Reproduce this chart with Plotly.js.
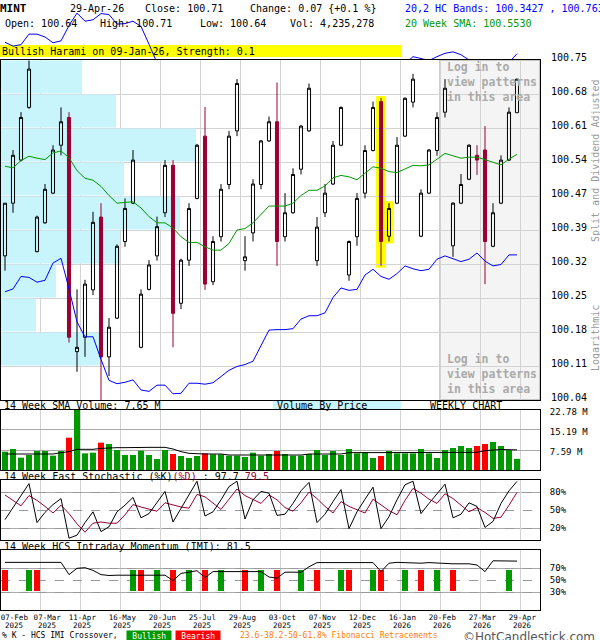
<!DOCTYPE html>
<html><head><meta charset="utf-8">
<script src="https://cdn.plot.ly/plotly-3.0.1.min.js"></script>
<style>html,body{margin:0;padding:0;background:#fff}#chart{width:600px;height:640px}</style>
</head><body><div id="chart"></div>
<script>
// ================= DATA =================
const ticker = 'MINT';
const openP  = [100.341,100.451,100.541,100.651,100.350,100.410,100.472,100.572,100.630,100.141,100.171,100.270,100.422,100.130,100.211,100.371,100.451,100.150,100.271,100.341,100.431,100.530,100.242,100.332,100.461,100.591,100.287,100.381,100.490,100.602,100.331,100.389,100.490,100.581,100.621,100.381,100.431,100.522,100.602,100.331,100.431,100.491,100.572,100.301,100.381,100.472,100.561,100.663,100.382,100.451,100.591,100.662,100.382,100.472,100.561,100.641,100.362,100.451,100.501,100.551,100.562,100.361,100.451,100.541,100.640];
const highP  = [100.451,100.562,100.641,100.749,100.425,100.491,100.572,100.651,100.641,100.271,100.291,100.433,100.451,100.211,100.365,100.461,100.562,100.271,100.332,100.423,100.541,100.541,100.335,100.451,100.575,100.652,100.382,100.491,100.602,100.710,100.382,100.501,100.583,100.632,100.703,100.472,100.524,100.614,100.701,100.422,100.491,100.581,100.653,100.373,100.472,100.572,100.663,100.671,100.451,100.589,100.672,100.721,100.480,100.564,100.641,100.710,100.453,100.512,100.574,100.572,100.612,100.451,100.551,100.651,100.710];
const lowP   = [100.310,100.431,100.538,100.648,100.348,100.408,100.470,100.551,100.160,100.099,100.130,100.259,100.036,100.090,100.209,100.360,100.449,100.148,100.269,100.331,100.422,100.150,100.230,100.320,100.459,100.270,100.280,100.371,100.480,100.591,100.310,100.371,100.480,100.579,100.320,100.371,100.429,100.511,100.600,100.320,100.422,100.489,100.570,100.289,100.362,100.461,100.559,100.320,100.371,100.449,100.589,100.651,100.380,100.470,100.550,100.630,100.339,100.449,100.499,100.510,100.282,100.359,100.449,100.539,100.640];
const closeP = [100.451,100.551,100.630,100.731,100.422,100.480,100.562,100.621,100.171,100.150,100.282,100.411,100.130,100.192,100.361,100.440,100.541,100.261,100.322,100.402,100.530,100.221,100.332,100.440,100.572,100.282,100.371,100.480,100.591,100.701,100.339,100.491,100.581,100.621,100.371,100.431,100.511,100.612,100.691,100.401,100.472,100.572,100.651,100.371,100.461,100.561,100.651,100.371,100.440,100.572,100.670,100.710,100.472,100.562,100.630,100.691,100.451,100.490,100.572,100.541,100.371,100.431,100.541,100.641,100.710];
const upperBand = [100.787,100.779,100.782,100.804,100.804,100.798,100.786,100.790,100.822,100.848,100.831,100.834,100.847,100.845,100.825,100.826,100.831,100.820,100.783,100.744,100.746,100.738,100.708,100.653,100.665,100.660,100.637,100.611,100.640,100.680,100.682,100.686,100.692,100.703,100.703,100.703,100.701,100.720,100.741,100.741,100.737,100.731,100.742,100.746,100.739,100.737,100.745,100.746,100.735,100.727,100.741,100.757,100.753,100.749,100.757,100.764,100.767,100.761,100.750,100.748,100.750,100.746,100.743,100.745,100.763];
const lowerBand = [100.266,100.272,100.298,100.296,100.286,100.290,100.326,100.336,100.272,100.203,100.172,100.172,100.125,100.081,100.074,100.077,100.082,100.061,100.058,100.071,100.071,100.053,100.054,100.075,100.075,100.073,100.076,100.090,100.102,100.110,100.114,100.121,100.155,100.186,100.187,100.187,100.189,100.209,100.216,100.216,100.222,100.254,100.274,100.269,100.271,100.301,100.313,100.298,100.292,100.304,100.320,100.314,100.310,100.313,100.334,100.341,100.335,100.329,100.334,100.347,100.330,100.320,100.323,100.343,100.343];
const sma20 = [100.528,100.525,100.540,100.549,100.545,100.542,100.556,100.560,100.546,100.519,100.503,100.499,100.486,100.467,100.451,100.452,100.454,100.441,100.423,100.410,100.410,100.399,100.381,100.369,100.369,100.360,100.353,100.353,100.367,100.395,100.398,100.410,100.428,100.445,100.445,100.445,100.451,100.467,100.478,100.478,100.487,100.504,100.509,100.506,100.500,100.513,100.527,100.524,100.517,100.515,100.522,100.530,100.529,100.531,100.543,100.555,100.550,100.545,100.547,100.547,100.542,100.536,100.531,100.543,100.553];
// volume in millions
const volume = [6.96,7.97,4.68,5.70,7.21,7.21,5.44,7.21,12.28,23.5,6.33,6.58,10.38,9.87,7.59,5.70,5.70,7.34,5.70,4.18,7.59,6.07,5.32,4.56,5.32,6.33,5.95,5.95,5.44,5.44,4.94,6.58,5.44,6.07,7.21,6.07,5.44,5.44,6.07,7.59,5.70,7.21,5.70,7.97,6.33,6.71,4.56,5.32,7.21,6.33,6.33,6.33,7.97,6.33,4.56,7.59,8.35,9.11,8.35,9.11,9.87,10.63,9.11,7.59,4.24];
const volSma = [6.07,6.07,6.07,6.07,6.07,6.07,6.07,6.58,6.96,7.85,7.85,7.85,8.2,8.48,8.48,8.48,8.6,8.6,8.6,8.6,8.6,7.97,6.96,6.33,6.07,6.07,6.07,6.07,5.69,5.69,5.69,5.69,5.69,5.69,5.69,5.69,5.69,5.69,6.07,6.07,6.07,6.07,6.07,6.58,6.58,6.58,6.58,6.58,6.58,6.58,6.58,6.58,6.58,6.58,6.58,6.71,6.71,6.71,6.71,6.71,7.34,7.59,7.8,7.7,7.65];
const stochK = [34,54,74,94,29,46,59,69,3,8,29,47,14,22,47,58,71,37,44,62,81,30,53,77,98,40,47,67,89,98,35,67,81,78,41,43,61,82,96,29,43,64,84,19,47,68,88,19,39,67,92,98,44,61,78,93,37,43,62,56,21,31,61,82,97.7];
const stochD = [75,66,57,74,66,56,45,58,44,27,13,28,30,28,28,42,59,55,51,48,62,58,55,53,76,72,62,51,68,85,74,67,61,75,67,54,48,62,80,69,56,45,64,56,50,45,68,58,49,42,66,86,78,68,61,77,69,58,47,54,46,36,38,58,79.5];
const imi = [79.4,79.4,79.4,79.4,79.4,79.4,79.4,79.4,59,69.5,70.5,66,59,57.5,58,58,58,58,58,58,58,49,61,63,65.5,54,64,64,64,64,64,64,64,55,53,63,63,63,72,79,79,79,79,79,79,79,79,64,78,79.4,79,78,78,79,78,77,77,77,77,75,64,82,82,82,81.5];
const bullishIdx = [3,16,19,23,27,32,37,42,46,50,54,63];
const bearishIdx = [0,4,17,21,25,30,34,39,43,47,52,56];
const patternIdx = [47,48];              // Bullish Harami candles
const loginStartWeek = 55;               // pattern-locked area starts here
// volume-by-price, relative, bottom bin to top bin
const vbpVolume = [0,100,35,55,119,179,123,195,115,81];
const priceTickText = ['100.04','100.11','100.18','100.25','100.32','100.39','100.47','100.54','100.61','100.68','100.75'];
const volTickVals = [7.59,15.19,22.78];
const volTickText = ['7.59 M','15.19 M','22.78 M'];
const dateLabels = ['07-Feb','07-Mar','11-Apr','16-May','20-Jun','25-Jul','29-Aug','03-Oct','07-Nov','12-Dec','16-Jan','20-Feb','27-Mar','29-Apr'];
const yearLabels = ['2025','2025','2025','2025','2025','2025','2025','2025','2025','2025','2026','2026','2026','2026'];
const dateLabelWeek = [1.5,5.6,10,15,20,25,30,35,40,45,50,55,60,65];

// ================= STYLE / LAYOUT =================
const W = 600, H = 640;
const MONO = "DejaVu Sans Mono, Liberation Mono, monospace";
const px = v => v / W, py = v => 1 - v / H;
const n = closeP.length;
const weekIdx = closeP.map((_, i) => i);
const xRange = [-0.5, -0.5 + 539 / 8];
const xDomain = [px(1), px(540)];
const gridPos = Array.from({length: 13}, (_, k) => (k + 1) * 5 - 0.625);
const labelPos = dateLabelWeek.map(w => w - 0.33);
const pMin = 100.04, pMax = 100.75, pStep = (pMax - pMin) / (priceTickText.length - 1);
const priceTickVals = priceTickText.map((_, i) => pMin + i * pStep);
const mainTop = 60, mainBot = 400;
const yTopExt = pMin + (pMax - pMin) * mainBot / (mainBot - mainTop);
const vbpCenters = vbpVolume.map((_, i) => pMin + pStep * (i + 0.5));
const GREEN = '#009900', RED = '#ff0000', DRED = '#990033', GRID = '#d3d3d3';

const traces = [
  {type:'bar', orientation:'h', x: vbpVolume, y: vbpCenters, width: pStep*0.965, xaxis:'x7', yaxis:'y',
   marker:{color:'#c8f4fc', line:{width:0}}, hoverinfo:'skip'},
  {type:'candlestick', x: weekIdx, open: openP, high: highP, low: lowP, close: closeP, xaxis:'x', yaxis:'y',
   increasing:{line:{color:'#000', width:1}, fillcolor:'rgba(0,0,0,0)'},
   decreasing:{line:{color:DRED, width:1}, fillcolor:DRED}, whiskerwidth:0, hoverinfo:'skip'},
  {type:'scatter', mode:'lines', x: weekIdx, y: lowerBand, xaxis:'x', yaxis:'y', line:{color:'#0000ff', width:1}, hoverinfo:'skip'},
  {type:'scatter', mode:'lines', x: weekIdx, y: sma20, xaxis:'x', yaxis:'y', line:{color:GREEN, width:1}, hoverinfo:'skip'},
  {type:'scatter', mode:'lines', x: weekIdx, y: upperBand, xaxis:'x6', yaxis:'y5', line:{color:'#0000ff', width:1}, hoverinfo:'skip'},
  {type:'bar', x: weekIdx, y: volume, width:0.75, xaxis:'x2', yaxis:'y2',
   marker:{color: closeP.map((c, i) => c >= openP[i] ? GREEN : RED), line:{width:0}}, hoverinfo:'skip'},
  {type:'scatter', mode:'lines', x: weekIdx, y: volSma, xaxis:'x2', yaxis:'y2', line:{color:'#000', width:1}, hoverinfo:'skip'},
  {type:'scatter', mode:'lines', x: weekIdx, y: stochD, xaxis:'x3', yaxis:'y3', line:{color:DRED, width:1}, hoverinfo:'skip'},
  {type:'scatter', mode:'lines', x: weekIdx, y: stochK, xaxis:'x3', yaxis:'y3', line:{color:'#000', width:1}, hoverinfo:'skip'},
  {type:'bar', x: bullishIdx, y: bullishIdx.map(() => 35), base: 31.7, width:0.75, xaxis:'x4', yaxis:'y4', marker:{color:GREEN, line:{width:0}}, hoverinfo:'skip'},
  {type:'bar', x: bearishIdx, y: bearishIdx.map(() => 35), base: 31.7, width:0.75, xaxis:'x4', yaxis:'y4', marker:{color:RED, line:{width:0}}, hoverinfo:'skip'},
  {type:'scatter', mode:'lines', x: weekIdx, y: imi, xaxis:'x4', yaxis:'y4', line:{color:'#000', width:1}, hoverinfo:'skip'}
];

const frame = {showline:true, mirror:true, linecolor:'#000', linewidth:1};
const xCommon = Object.assign({domain:xDomain, range:xRange, tickmode:'array', tickvals:gridPos, showticklabels:false,
  ticks:'', showgrid:true, gridcolor:GRID, gridwidth:1, zeroline:false, fixedrange:true}, frame);
const yRight = {side:'right', ticks:'', zeroline:false, fixedrange:true, tickmode:'array',
  tickfont:{family:MONO, size:9, color:'#000'}, ticklabelstandoff:7};

const layout = {
  width:W, height:H, margin:{l:0,r:0,t:0,b:0,pad:0}, paper_bgcolor:'#ffffff', plot_bgcolor:'#ffffff',
  showlegend:false, barmode:'overlay', boxgap:0.45, dragmode:false,
  xaxis7: Object.assign({domain:xDomain, range:[0,539], anchor:'y', showgrid:false, zeroline:false, showticklabels:false, ticks:'', fixedrange:true}, frame),
  xaxis: {overlaying:'x7', anchor:'y', range:xRange, tickmode:'array', tickvals:gridPos, showticklabels:false, ticks:'',
          showgrid:true, gridcolor:GRID, zeroline:false, showline:false, rangeslider:{visible:false}, fixedrange:true},
  yaxis: Object.assign({}, yRight, frame, {domain:[py(mainBot), py(mainTop)], anchor:'x7', range:[pMin, pMax],
          tickvals:priceTickVals, ticktext:priceTickText, showgrid:true, gridcolor:GRID,
          tickfont:{family:MONO, size:10, color:'#000'}, ticklabelstandoff:8, ticklabelshift:-3}),
  xaxis6: {domain:xDomain, range:xRange, anchor:'y5', visible:false, fixedrange:true},
  yaxis5: {domain:[py(mainBot), 1], range:[pMin, yTopExt], anchor:'x6', visible:false, fixedrange:true},
  xaxis2: Object.assign({}, xCommon, {anchor:'y2'}),
  yaxis2: Object.assign({}, yRight, frame, {domain:[py(470), py(410)], anchor:'x2', range:[0, 22.78],
          tickvals:volTickVals, ticktext:volTickText, showgrid:true, gridcolor:'#aaaaaa', ticklabelshift:2}),
  xaxis3: Object.assign({}, xCommon, {anchor:'y3'}),
  yaxis3: Object.assign({}, yRight, frame, {domain:[py(540), py(480)], anchor:'x3', range:[0,100],
          tickvals:[20,50,80], ticktext:['20%','50%','80%'], showgrid:true, gridcolor:'#999999', griddash:'dash',
          minor:{tickmode:'array', tickvals:[20,80], showgrid:true, gridcolor:'#aaaaaa', griddash:'solid', ticks:''}}),
  xaxis4: Object.assign({}, xCommon, {anchor:'y4', tickvals:labelPos, ticktext:dateLabels, showticklabels:true, showgrid:false,
          tickangle:0, tickfont:{family:MONO, size:7.5, color:'#000'}, ticklabelstandoff:0, ticklabeloverflow:'allow',
          minor:{tickmode:'array', tickvals:gridPos, showgrid:true, gridcolor:GRID, ticks:''}}),
  yaxis4: Object.assign({}, yRight, frame, {domain:[py(610), py(550)], anchor:'x4', range:[0,100],
          tickvals:[30,50,70], ticktext:['30%','50%','70%'], showgrid:true, gridcolor:'#999999', griddash:'dash',
          minor:{tickmode:'array', tickvals:[30,70], showgrid:true, gridcolor:'#aaaaaa', griddash:'solid', ticks:''}}),
  shapes: [
    {type:'rect', xref:'paper', yref:'paper', x0:0, x1:px(401), y0:py(57), y1:py(45), fillcolor:'#ffff00', line:{width:0}, layer:'below'},
    {type:'rect', xref:'paper', yref:'paper', x0:px(273), x1:px(401), y0:py(410), y1:py(400), fillcolor:'#c8f4fc', line:{width:0}, layer:'below'},
    {type:'rect', xref:'x', yref:'y', x0:loginStartWeek - 0.625, x1:xRange[1], y0:pMin, y1:pMax,
     fillcolor:'#f4f4f4', line:{color:'#999999', width:1}, layer:'below'}
  ].concat(patternIdx.map(i => ({type:'rect', xref:'x', yref:'y', x0:i - 0.62, x1:i + 0.62,
     y0:lowP[i] - 0.004, y1:highP[i] + 0.004, fillcolor:'#ffff00', line:{width:0}, layer:'below'}))),
  annotations: []
};

function txt(text, x, y, opt) {
  return Object.assign({text:text, x:px(x), y:py(y), xref:'paper', yref:'paper', xanchor:'left', yanchor:'middle',
    showarrow:false, borderpad:0, align:'left', font:{family:MONO, size:10, color:'#000'}}, opt || {});
}
const last = n - 1;
layout.annotations.push(
  txt('<b>' + ticker + '</b>', -1, 9, {font:{family:MONO, size:11, color:'#000'}}),
  txt('29-Apr-26', 69, 9),
  txt('Close: ' + closeP[last].toFixed(2), 144, 9),
  txt('Change: 0.07 {+0.1 %}', 249, 9),
  txt('20,2 HC Bands: 100.3427 , 100.763', 404, 9, {font:{family:MONO, size:10, color:'#0000ff'}}),
  txt('Open: ' + openP[last].toFixed(2), 4, 24),
  txt('High: ' + highP[last].toFixed(2), 99, 24),
  txt('Low: ' + lowP[last].toFixed(2), 199, 24),
  txt('Vol: 4,235,278', 289, 24),
  txt('20 Week SMA: 100.5530', 404, 24, {font:{family:MONO, size:10, color:GREEN}}),
  txt('Bullish Harami on 09-Jan-26, Strength: 0.1', 1, 51),
  txt('<b>Log in to<br>view patterns<br>in this area</b>', 446, 59, {yanchor:'top', font:{family:MONO, size:11.5, color:'#aaaaaa'}}),
  txt('<b>Log in to<br>view patterns<br>in this area</b>', 446, 351, {yanchor:'top', font:{family:MONO, size:11.5, color:'#aaaaaa'}}),
  txt('Split and Dividend Adjusted', 595, 161, {xanchor:'center', textangle:-90, font:{family:MONO, size:10, color:'#999999'}}),
  txt('Logarithmic', 595, 338, {xanchor:'center', textangle:-90, font:{family:MONO, size:10, color:'#999999'}}),
  txt('14 Week SMA Volume: ' + volSma[last].toFixed(2) + ' M', 3, 405),
  txt('Volume By Price', 276, 405),
  txt('WEEKLY CHART', 429, 405),
  txt('14 Week Fast Stochastic (%K)<span style="color:' + DRED + '">(%D)</span> : ' + stochK[last] +
      ' <span style="color:' + DRED + '">' + stochD[last] + '</span>', 3, 476),
  txt('14 Week HCS Intraday Momentum (IMI): ' + imi[last], 3, 546),
  txt('% K - HCS IMI Crossover,', 1, 635.5, {font:{family:MONO, size:8, color:'#000'}}),
  txt(' Bullish ', 126, 635.5, {bgcolor:GREEN, borderpad:0.5, font:{family:MONO, size:8, color:'#ffffff'}}),
  txt(' Bearish ', 175, 635.5, {bgcolor:RED, borderpad:0.5, font:{family:MONO, size:8, color:'#ffffff'}}),
  txt('23.6-38.2-50-61.8% Fibonacci Retracements', 239, 635.5, {font:{family:MONO, size:8, color:'#ff8000'}}),
  txt('©HotCandlestick.com', 462, 636.5, {font:{family:'DejaVu Sans, sans-serif', size:12, color:'#555555'}})
);
// year row under the date tick labels, positioned on the bottom axis scale
yearLabels.forEach((yl, i) => layout.annotations.push({text:yl, x:labelPos[i], xref:'x4', y:py(625), yref:'paper',
  xanchor:'center', yanchor:'middle', showarrow:false, borderpad:0, font:{family:MONO, size:7.5, color:'#000'}}));

Plotly.newPlot('chart', traces, layout, {staticPlot:true, displayModeBar:false});
</script></body></html>
